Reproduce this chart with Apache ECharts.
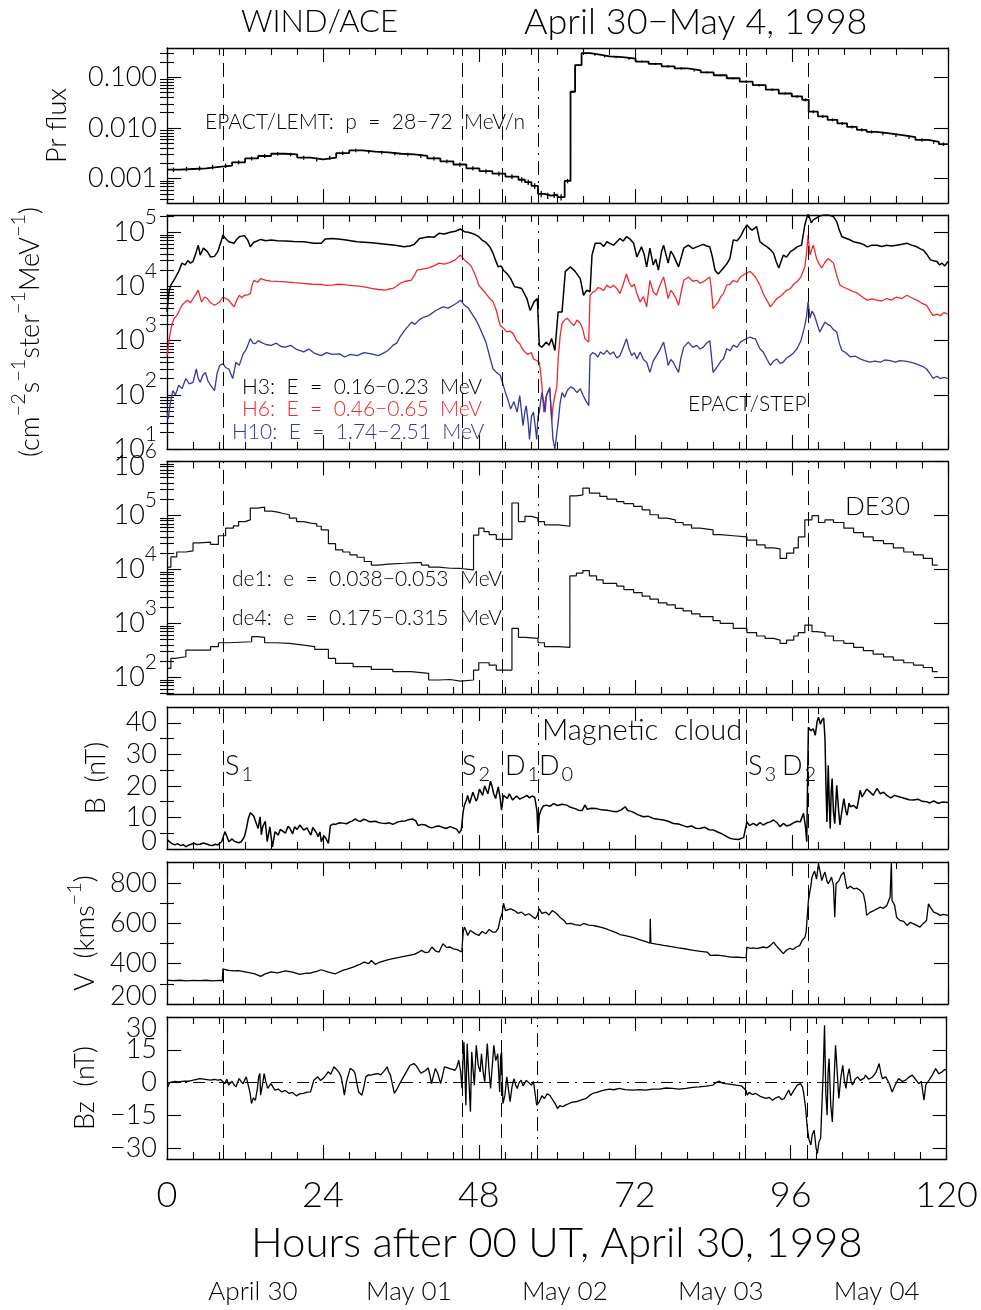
<!DOCTYPE html>
<html><head><meta charset="utf-8">
<script src="https://cdn.jsdelivr.net/npm/echarts@6/dist/echarts.min.js"></script>
<style>html,body{margin:0;padding:0;background:#fff}#c{width:981px;height:1310px}</style>
</head><body><div id="c"></div>
<script>
// ---------------- DATA ----------------
const xTickHours = [0, 24, 48, 72, 96, 120];
const dateHours = [12, 36, 60, 84, 108];
const dateNames = ['April 30', 'May 01', 'May 02', 'May 03', 'May 04'];
const shockHours = [8.7, 45.4, 51.5, 89.0, 98.5];   // S1, S2, D1, S3, D2
const cloudHours = [57.0];                          // D0
const eventLabels = [['S','1'],['S','2'],['D','1'],['D','0'],['S','3'],['D','2']];

const prFlux = [[0,0.0015],[2,0.00155],[4,0.0016],[6,0.0017],[8,0.0018],[10,0.0021],[12,0.0025],[14,0.0028],[16,0.0031],[18,0.003],[20,0.0026],[22,0.0024],[24,0.0026],[26,0.0032],[28,0.0036],[30,0.0034],[32,0.0033],[34,0.0031],[36,0.003],[38,0.0028],[40,0.0025],[42,0.0022],[44,0.0019],[46,0.0016],[48,0.0014],[50,0.00125],[52,0.0011],[54,0.00095],[55,0.00085],[56,0.00072],[57,0.0005],[58,0.00046],[59,0.00048],[60,0.00043],[61.1,0.0009],[62,0.052],[62.7,0.175],[63.7,0.30],[65,0.28],[66.5,0.26],[68,0.25],[70,0.235],[72,0.205],[74,0.185],[76,0.165],[78,0.15],[80,0.138],[82,0.125],[84,0.11],[86,0.096],[88,0.082],[90,0.07],[92,0.057],[94,0.048],[96,0.042],[97.6,0.036],[98.6,0.021],[100,0.017],[101.5,0.0145],[103,0.0123],[104.5,0.0105],[106,0.0092],[107.5,0.0084],[109,0.0078],[111,0.0072],[113,0.0066],[115,0.0058],[117,0.0053],[118.6,0.0048],[120,0.0046]];
// relative error of each Pr flux bin (error-bar half height)
const prFluxErr = [0.1,0.1,0.1,0.1,0.1,0.09,0.09,0.09,0.08,0.08,0.09,0.09,0.09,0.08,0.08,0.08,0.08,0.08,0.08,0.09,0.09,0.09,0.1,0.1,0.1,0.11,0.11,0.12,0.12,0.13,0.14,0.14,0.14,0.14,0.1,0.05,0.05,0.05,0.05,0.05,0.05,0.05,0.05,0.05,0.05,0.05,0.05,0.05,0.05,0.05,0.06,0.06,0.06,0.06,0.06,0.07,0.07,0.07,0.07,0.07,0.07,0.07,0.07,0.08,0.08,0.08,0.08,0.08,0.08];

const h3 = [[0,3.4e3],[0.3,8e3],[0.6,1.06e4],[1.2,1.4e4],[1.8,1.9e4],[2.3,2.7e4],[2.8,2.5e4],[3.2,3.0e4],[3.6,2.7e4],[4.0,2.9e4],[4.5,4.4e4],[4.8,5.8e4],[5.1,3.8e4],[5.6,5.1e4],[6.2,4.4e4],[6.7,3.5e4],[7.3,3.6e4],[7.8,4.4e4],[8.3,6.7e4],[8.6,8.9e4],[9.0,7.7e4],[9.5,6.7e4],[10.3,6.3e4],[10.7,7.4e4],[11.1,8.3e4],[11.9,8.7e4],[12.4,7.2e4],[12.8,5.4e4],[13.3,6.5e4],[14.4,7.4e4],[15.2,7.0e4],[16.0,7.2e4],[17.0,7.0e4],[18.2,6.9e4],[19.5,6.8e4],[21.0,6.7e4],[22.6,6.3e4],[23.7,6.3e4],[24.3,7.5e4],[25.4,7.7e4],[27.0,7.4e4],[29.2,6.7e4],[31.4,6.4e4],[33.6,6.0e4],[35.3,5.7e4],[36.4,5.4e4],[37.3,5.6e4],[38.0,6.0e4],[38.8,7.7e4],[40.2,8.3e4],[41.0,8.1e4],[41.8,9.6e4],[42.6,9.3e4],[43.5,1.0e5],[44.3,1.05e5],[45.1,1.15e5],[45.7,1.03e5],[46.3,1.0e5],[46.8,9.6e4],[47.4,9.0e4],[47.9,8.3e4],[48.4,7.2e4],[49.0,6.5e4],[49.6,5.4e4],[50.1,4.1e4],[50.5,3.0e4],[50.9,2.3e4],[51.3,2.4e4],[51.7,2.0e4],[52.3,1.7e4],[52.8,1.4e4],[53.4,9.9e3],[54.0,9.6e3],[54.5,9.2e3],[55.0,7.0e3],[55.3,6.0e3],[55.8,3.6e3],[56.4,5.2e3],[56.9,6.0e3],[57.2,820],[57.6,760],[58.3,940],[58.7,820],[59.1,1.09e3],[59.6,660],[60.1,3.4e3],[60.7,3.4e3],[61.2,1.9e4],[62.0,2.3e4],[62.7,1.9e4],[63.5,1.4e4],[64.0,6.9e3],[64.5,8.6e3],[65.0,8.0e3],[65.3,3.8e4],[65.8,6.3e4],[66.6,6.3e4],[67.1,5.5e4],[67.6,6.7e4],[68.1,6.2e4],[68.6,5.8e4],[69.6,7.7e4],[70.1,6.9e4],[70.6,8.3e4],[71.2,7.4e4],[71.7,6.3e4],[72.2,3.5e4],[72.9,5.4e4],[73.3,4.0e4],[73.7,2.3e4],[74.2,5.1e4],[74.7,2.5e4],[75.1,3.2e4],[75.5,2.0e4],[76.0,4.5e4],[76.3,5.8e4],[77.0,2.7e4],[77.4,4.5e4],[77.8,3.8e4],[78.6,2.3e4],[79.4,5.1e4],[80.1,5.8e4],[80.8,5.0e4],[81.4,5.4e4],[82.4,6.0e4],[82.9,5.6e4],[83.4,5.4e4],[83.8,3.5e4],[84.2,2.0e4],[84.7,1.7e4],[85.5,2.2e4],[86.0,2.6e4],[86.5,3.3e4],[87.0,7.2e4],[87.6,7.0e4],[88.1,8.3e4],[88.6,1.1e5],[89.1,1.37e5],[89.5,1.2e5],[89.9,1.1e5],[90.6,1.27e5],[91.1,6.7e4],[91.6,6.0e4],[92.2,5.4e4],[92.7,4.8e4],[93.2,4.1e4],[93.6,2.9e4],[94.0,2.2e4],[94.7,3.8e4],[95.2,3.5e4],[95.8,4.4e4],[96.3,4.8e4],[96.8,5.4e4],[97.5,5.8e4],[98.0,1.37e5],[98.5,2.25e5],[99.0,1.5e5],[99.3,1.7e5],[100.1,1.95e5],[100.9,2.1e5],[101.6,2.1e5],[102.4,1.95e5],[102.9,1.58e5],[103.3,1.1e5],[103.7,8.3e4],[104.4,7.7e4],[105.0,7.2e4],[105.5,6.7e4],[106.5,6.3e4],[107.0,6.0e4],[107.6,5.4e4],[108.3,5.8e4],[109.1,5.8e4],[109.8,5.5e4],[110.6,5.8e4],[111.3,5.6e4],[112.1,5.8e4],[112.9,6.0e4],[113.7,6.3e4],[114.4,5.8e4],[115.2,5.4e4],[115.7,5.0e4],[116.2,4.7e4],[116.7,4.0e4],[117.3,3.1e4],[117.8,3.0e4],[118.3,2.9e4],[118.7,2.5e4],[119.1,2.7e4],[119.5,2.4e4],[120.0,2.9e4]];

const h6 = [[0,530],[0.4,1.2e3],[0.7,1.9e3],[1.1,2.6e3],[1.5,2.9e3],[1.9,3.6e3],[2.3,4.5e3],[2.8,5.2e3],[3.2,5.6e3],[3.6,5.0e3],[4.0,6.0e3],[4.4,7.0e3],[4.8,8.6e3],[5.3,5.2e3],[5.8,6.4e3],[6.2,6.0e3],[6.7,5.0e3],[7.3,4.5e3],[7.7,4.8e3],[8.1,5.2e3],[8.6,6.4e3],[9.0,6.0e3],[9.5,5.6e3],[9.9,4.8e3],[10.3,4.2e3],[10.7,5.5e3],[11.1,6.9e3],[11.5,6.2e3],[11.9,6.9e3],[12.4,7.0e3],[12.8,7.4e3],[13.1,1.1e4],[13.4,1.3e4],[13.9,1.2e4],[14.4,1.4e4],[15.2,1.3e4],[16.0,1.26e4],[17.0,1.24e4],[18.2,1.22e4],[19.5,1.18e4],[21.0,1.14e4],[22.3,1.1e4],[23.7,1.09e4],[24.5,1.05e4],[25.4,1.06e4],[26.2,1.1e4],[27.0,1.09e4],[28.0,1.05e4],[29.2,1.03e4],[30.3,9.8e3],[31.4,9.2e3],[32.5,8.8e3],[33.6,8.6e3],[34.2,9.0e3],[34.7,9.2e3],[35.2,1.0e4],[35.8,1.14e4],[36.6,1.25e4],[37.5,1.3e4],[38.0,1.6e4],[38.4,2.0e4],[39.2,2.1e4],[40.2,2.2e4],[41.0,2.4e4],[41.8,2.7e4],[42.6,2.6e4],[43.5,2.8e4],[44.3,3.1e4],[45.1,3.8e4],[45.7,3.1e4],[46.3,2.7e4],[46.8,2.3e4],[47.4,1.6e4],[47.9,1.06e4],[48.4,9.0e3],[49.0,7.4e3],[49.6,6.0e3],[50.1,5.2e3],[50.6,3.6e3],[51.2,1.9e3],[51.7,1.7e3],[52.2,1.45e3],[52.7,1.5e3],[53.2,1.35e3],[53.7,1.0e3],[54.2,880],[54.6,700],[55.0,620],[55.4,560],[55.7,530],[56.0,600],[56.3,460],[56.8,430],[57.2,400],[57.4,260],[57.6,150],[57.9,48],[58.1,75],[58.3,97],[58.6,120],[58.8,140],[59.1,33],[59.3,60],[59.6,97],[59.9,140],[60.1,460],[60.4,1.2e3],[60.7,2.1e3],[61.1,2.4e3],[61.5,2.6e3],[62.0,2.2e3],[62.5,1.9e3],[63.0,2.4e3],[63.5,2.1e3],[63.9,1.6e3],[64.2,1.09e3],[64.8,940],[65.0,6.9e3],[65.4,7.8e3],[65.8,8.2e3],[66.2,9.5e3],[66.6,9.2e3],[67.1,8.5e3],[67.6,1.06e4],[68.1,9.5e3],[68.6,1.06e4],[69.1,9.2e3],[69.6,7.4e3],[70.1,1.1e4],[70.6,1.7e4],[71.0,1.2e4],[71.4,9.9e3],[71.8,1.1e4],[72.2,7.4e3],[72.7,5.2e3],[73.2,6.5e3],[73.7,4.2e3],[74.2,1.3e4],[74.7,8.0e3],[75.2,6.9e3],[75.8,1.1e4],[76.3,1.5e4],[76.7,9.0e3],[77.0,6.0e3],[77.4,8.5e3],[77.8,7.4e3],[78.2,6.0e3],[78.6,4.5e3],[79.0,8.0e3],[79.4,1.3e4],[80.1,1.5e4],[80.8,1.25e4],[81.4,1.3e4],[81.9,1.15e4],[82.4,1.22e4],[82.9,1.35e4],[83.4,1.5e4],[83.6,1.0e4],[83.9,3.9e3],[84.3,4.5e3],[84.7,5.2e3],[85.1,6.5e3],[85.5,7.4e3],[86.0,1.06e4],[86.5,1.1e4],[87.0,1.3e4],[87.6,1.2e4],[88.1,1.5e4],[88.8,1.7e4],[89.6,1.9e4],[90.0,1.7e4],[90.4,1.5e4],[91.1,1.06e4],[91.6,7.4e3],[92.2,5.5e3],[92.7,4.2e3],[93.2,5.0e3],[93.7,6.0e3],[94.2,6.5e3],[94.7,7.4e3],[95.2,8.5e3],[95.8,9.2e3],[96.3,1.1e4],[96.8,1.22e4],[97.4,1.5e4],[98.0,2.3e4],[98.3,4.5e4],[98.5,8.9e4],[98.8,3.8e4],[99.1,5.0e4],[99.3,5.8e4],[99.8,3.3e4],[100.2,2.6e4],[100.6,2.2e4],[101.1,2.8e4],[101.6,3.3e4],[102.0,3.0e4],[102.4,2.7e4],[102.9,1.6e4],[103.4,1.06e4],[103.9,9.8e3],[104.4,9.2e3],[105.0,8.5e3],[105.5,8.0e3],[106.0,7.6e3],[106.5,6.9e3],[107.0,6.2e3],[107.6,5.6e3],[108.3,5.9e3],[109.1,5.6e3],[109.8,5.4e3],[110.6,6.0e3],[111.3,5.6e3],[112.1,6.4e3],[112.9,6.0e3],[113.7,6.9e3],[114.4,6.2e3],[115.2,5.6e3],[115.9,5.0e3],[116.7,4.5e3],[117.2,3.6e3],[117.7,2.9e3],[118.3,3.1e3],[118.8,2.9e3],[119.4,3.3e3],[120.0,3.1e3]];

const h10 = [[0,48],[0.2,36],[0.5,70],[0.9,120],[1.3,100],[1.8,150],[2.3,130],[2.9,200],[3.4,160],[4.0,170],[4.5,300],[4.8,200],[5.1,170],[5.5,230],[5.9,260],[6.3,180],[6.7,150],[7.3,120],[7.7,250],[8.1,350],[8.6,375],[9.0,320],[9.5,300],[10.1,200],[10.6,400],[11.1,350],[11.7,570],[12.2,700],[12.8,1.09e3],[13.2,900],[13.6,880],[14.0,1.0e3],[14.4,940],[15.2,850],[16.0,820],[16.8,900],[17.5,780],[18.2,760],[19.0,820],[19.8,700],[21.0,620],[21.8,700],[22.7,580],[23.7,530],[24.5,600],[25.4,560],[26.5,570],[27.3,500],[28.2,560],[29.2,530],[30.3,600],[31.4,570],[32.5,530],[33.6,620],[34.2,700],[34.7,820],[35.3,900],[35.8,1.17e3],[36.6,1.6e3],[37.6,2.2e3],[38.1,2.0e3],[38.7,2.4e3],[39.4,2.7e3],[40.2,2.9e3],[41.3,3.6e3],[42.4,4.2e3],[43.2,4.0e3],[44.0,4.5e3],[44.6,5.0e3],[45.1,5.6e3],[45.7,4.5e3],[46.3,4.0e3],[46.8,3.2e3],[47.4,2.5e3],[47.9,1.9e3],[48.5,1.3e3],[49.0,940],[49.6,500],[50.1,300],[50.6,260],[51.2,230],[51.6,160],[52.0,110],[52.4,80],[52.8,55],[53.3,75],[53.8,48],[54.2,97],[54.7,27],[55.0,50],[55.2,63],[55.5,30],[55.7,15],[56.0,40],[56.3,48],[56.6,25],[56.8,15],[57.0,40],[57.2,48],[57.6,110],[57.9,70],[58.1,48],[58.3,97],[58.8,130],[59.0,60],[59.3,15],[59.6,10],[60.1,31],[60.4,70],[60.7,110],[61.1,90],[61.5,120],[62.0,140],[62.5,130],[63.0,110],[63.5,130],[63.9,100],[64.2,84],[64.8,63],[65.0,530],[65.4,600],[65.8,570],[66.2,500],[66.6,620],[67.1,560],[67.6,660],[68.1,560],[68.6,620],[69.1,480],[69.6,530],[70.1,750],[70.6,1.09e3],[71.0,700],[71.4,530],[71.8,600],[72.2,460],[72.7,620],[73.2,450],[73.7,400],[74.2,260],[74.7,420],[75.2,530],[75.8,700],[76.3,940],[76.7,550],[77.0,350],[77.4,450],[77.8,400],[78.2,320],[78.6,260],[79.0,500],[79.4,760],[80.1,940],[80.8,750],[81.4,820],[81.9,700],[82.4,760],[82.9,900],[83.4,1.0e3],[83.6,600],[83.9,260],[84.3,300],[84.7,350],[85.1,420],[85.5,460],[86.0,710],[86.5,650],[87.0,820],[87.6,760],[88.1,940],[88.8,1.05e3],[89.6,1.17e3],[90.0,1.1e3],[90.4,1.09e3],[91.1,710],[91.6,620],[92.2,450],[92.7,350],[93.2,420],[93.7,460],[94.2,380],[94.7,400],[95.2,480],[95.8,530],[96.3,600],[96.8,710],[97.4,1.0e3],[98.0,1.9e3],[98.3,3.0e3],[98.5,5.2e3],[98.8,2.6e3],[99.1,3.5e3],[99.5,2.9e3],[99.9,2.0e3],[100.3,1.45e3],[100.7,1.8e3],[101.1,2.2e3],[101.5,2.0e3],[101.9,1.9e3],[102.4,1.6e3],[102.9,1.45e3],[103.3,900],[103.7,660],[104.3,600],[105.0,500],[105.7,520],[106.5,460],[107.2,430],[108.0,400],[108.8,420],[109.6,400],[110.3,440],[111.1,430],[111.9,400],[112.6,430],[113.4,420],[114.2,400],[114.9,380],[115.7,350],[116.2,330],[116.7,300],[117.2,250],[117.7,200],[118.3,220],[118.8,200],[119.4,210],[120.0,200]];

const de1 = [[0,1.1e4],[0.6,1.7e4],[1.5,2.1e4],[2.9,2.2e4],[4.0,3.1e4],[5.0,3.2e4],[6.7,2.9e4],[7.9,4.2e4],[9.0,5.8e4],[10.2,6.4e4],[11.0,7.7e4],[12.0,8.3e4],[12.8,1.37e5],[13.9,1.43e5],[15.0,1.2e5],[16.1,1.14e5],[17.2,1.1e5],[17.7,1.03e5],[18.8,8.9e4],[19.9,7.7e4],[21.0,7.2e4],[22.1,7.0e4],[23.0,6.3e4],[23.7,5.4e4],[24.8,3.0e4],[25.9,2.3e4],[27.0,2.1e4],[28.1,1.86e4],[29.2,1.68e4],[30.3,1.4e4],[31.4,1.2e4],[32.5,1.25e4],[34.0,1.3e4],[36.5,1.34e4],[38.3,1.34e4],[39.1,1.2e4],[40.2,1.1e4],[41.8,1.05e4],[43.5,1.04e4],[45.1,9.8e3],[47.1,4.3e4],[47.9,5.8e4],[48.7,5.0e4],[49.5,4.4e4],[50.6,3.6e4],[53.0,1.7e5],[54.0,7.7e4],[55.0,9.6e4],[56.0,8.9e4],[57.0,7.7e4],[58.0,6.7e4],[60.1,6.3e4],[61.9,2.3e5],[62.9,2.4e5],[63.9,3.2e5],[64.9,2.6e5],[66.5,2.25e5],[67.6,2.0e5],[69.1,1.8e5],[70.2,1.65e5],[71.7,1.47e5],[73.0,1.27e5],[74.2,1.03e5],[75.5,8.9e4],[76.8,8.3e4],[78.1,7.4e4],[79.3,6.7e4],[80.6,5.8e4],[81.9,5.4e4],[83.9,4.4e4],[85.0,4.2e4],[87.0,4.0e4],[89.1,3.5e4],[90.6,2.85e4],[91.9,2.5e4],[93.2,2.4e4],[94.2,1.6e4],[95.2,2.0e4],[96.3,2.5e4],[97.0,4.0e4],[98.0,8.3e4],[99.1,9.9e4],[100.1,7.4e4],[101.1,8.3e4],[102.4,7.4e4],[104.0,5.8e4],[105.5,4.8e4],[107.0,4.0e4],[108.5,3.4e4],[110.1,3.0e4],[111.6,2.5e4],[113.2,2.1e4],[114.7,1.86e4],[116.2,1.6e4],[117.6,1.2e4],[118.4,1.2e4]];

const de4 = [[0,146],[0.6,224],[1.2,240],[2.9,320],[5.0,320],[6.7,369],[7.9,437],[9.4,456],[13.0,565],[13.9,550],[15.0,437],[16.7,425],[18.8,396],[21.0,369],[22.7,329],[24.8,224],[25.9,181],[28.6,157],[31.4,140],[34.7,127],[37.5,118],[40.2,89],[41.8,91],[43.5,85],[45.1,89],[47.1,136],[47.9,186],[49.5,168],[50.6,136],[53.0,807],[54.0,550],[55.0,526],[57.0,437],[58.0,369],[60.1,358],[61.9,7.6e3],[62.9,8.5e3],[63.9,9.5e3],[64.9,7.6e3],[66.0,6.4e3],[67.0,5.5e3],[69.1,4.9e3],[70.2,4.2e3],[71.7,3.7e3],[73.0,3.2e3],[74.2,2.8e3],[75.5,2.4e3],[76.8,2.2e3],[78.1,1.9e3],[79.3,1.7e3],[80.6,1.5e3],[81.9,1.33e3],[83.9,1.12e3],[85.0,1.0e3],[87.0,807],[89.1,671],[90.6,582],[91.9,526],[93.2,490],[94.2,425],[95.2,490],[96.3,582],[97.0,671],[98.0,930],[99.1,700],[99.8,671],[101.1,582],[102.4,476],[104.0,425],[105.5,358],[107.0,311],[108.5,269],[110.1,240],[111.6,208],[113.2,186],[114.7,168],[116.2,152],[117.6,127],[118.4,127]];

const bField = [[0.1,2.8],[0.7,1.8],[1.2,1.3],[1.6,1.7],[2.1,1.1],[2.5,1.4],[2.9,0.7],[3.3,1.2],[3.7,1.5],[4.2,1.8],[4.6,1.4],[5.1,1.5],[5.6,1.9],[6.2,1.5],[6.6,1.2],[7.0,1.1],[7.4,1.5],[7.8,1.3],[8.4,2.3],[8.9,5.5],[9.2,4.0],[9.5,2.3],[10.0,3.2],[10.3,2.5],[10.6,2.8],[11.0,2.0],[11.4,2.3],[11.9,3.9],[12.2,6.5],[12.5,9.7],[12.8,11.5],[13.0,12],[13.3,10.5],[13.6,10.7],[14.0,6.5],[14.3,10.2],[14.5,4.5],[14.7,7],[15.1,8.8],[15.4,2.3],[15.8,7],[16.2,0.7],[16.6,5.5],[17.1,4.4],[17.4,6.2],[17.7,6],[18.2,5],[18.6,7.2],[18.9,6.5],[19.3,4.8],[19.6,7],[20.0,6.2],[20.4,7.6],[20.7,6.8],[21.0,6],[21.5,6.7],[22.1,4.4],[22.4,6.8],[22.6,6.5],[23.0,5.0],[23.2,3.9],[23.5,5.4],[23.7,2.3],[24.1,4.2],[24.4,3.4],[24.8,1.8],[25.1,7.4],[25.5,7.9],[25.9,7.8],[26.5,8.3],[27.0,8.2],[27.6,8.0],[28.1,8.6],[28.5,8.9],[28.9,9.5],[29.4,8.9],[29.8,8.8],[30.2,9.4],[30.6,9.2],[31.0,8.7],[31.4,8.6],[32.0,8.8],[32.5,8.4],[33.0,8.2],[33.6,8.1],[34.2,8.3],[34.7,7.8],[35.1,8.2],[35.5,8.6],[36.0,8.8],[36.6,8.9],[37.1,9.3],[37.7,9.5],[38.2,9.0],[38.6,7.4],[39.1,7.8],[39.7,7.6],[40.2,7.0],[40.7,6.7],[41.2,7.1],[41.8,7.3],[42.3,6.9],[42.9,6.5],[43.5,7.1],[44.0,6.7],[44.5,6.3],[44.9,5],[45.2,6.0],[45.3,7.6],[45.5,11.8],[45.7,13.9],[46.0,15.5],[46.2,17],[46.5,14.5],[46.7,15],[47.0,18],[47.2,17.6],[47.5,15.2],[47.7,16],[48.0,19],[48.2,18.6],[48.5,17],[48.8,20],[49.1,19.4],[49.3,17.5],[49.5,17],[49.7,21.5],[49.9,20.2],[50.2,17.5],[50.5,16],[50.7,18],[50.9,19.7],[51.2,16],[51.4,12.3],[51.7,17],[52.0,16.5],[52.3,16],[52.6,17.5],[52.8,17],[53.1,15.5],[53.4,15],[53.7,16.8],[53.9,16.5],[54.2,15.8],[54.5,15.2],[54.9,16.5],[55.3,17],[55.7,16.2],[56.1,16.8],[56.5,16.4],[56.7,16],[56.85,12],[57.0,5],[57.2,10.7],[57.5,12.5],[57.8,13.6],[58.3,13.9],[58.8,13.5],[59.4,14.4],[60.0,13.8],[60.7,14.2],[61.4,13.9],[62.0,13.2],[62.7,12.8],[63.2,12.3],[63.5,11.8],[63.8,12.2],[64.2,13.9],[64.6,12.6],[65.2,12.9],[66.0,12.8],[66.8,12.4],[67.6,12.3],[68.4,12.0],[69.1,11.8],[69.8,12.4],[70.4,13.4],[70.8,12.2],[71.2,12.0],[71.7,11.6],[72.4,10.8],[73.2,10.2],[73.9,10.4],[74.7,9.7],[75.5,9.4],[76.3,9.2],[77.0,8.8],[77.8,8.1],[78.6,7.9],[79.3,7.4],[79.9,7.0],[80.6,7.3],[81.2,6.6],[81.9,6.5],[82.6,6.9],[83.3,6.1],[84.0,6.0],[84.6,5.4],[85.3,4.8],[86.0,3.9],[86.5,3.4],[87.0,3.2],[87.8,3.0],[88.6,3.6],[88.9,4],[89.1,8.6],[89.5,7.4],[90.1,8.1],[90.6,7.4],[91.1,8.4],[91.6,7.6],[92.2,8.3],[92.7,8.6],[93.2,9.2],[93.7,8.4],[94.2,7.1],[94.7,8.1],[95.2,7.3],[95.7,7.6],[96.2,8.2],[96.8,8.8],[97.3,8.6],[97.8,11.3],[98.1,7],[98.3,2.3],[98.45,25],[98.55,38.6],[98.9,37.5],[99.3,38.1],[99.6,36],[99.9,40.5],[100.1,41.8],[100.4,39.5],[100.6,40.7],[100.9,41.5],[101.1,35],[101.25,20],[101.4,8.6],[101.6,26.5],[101.75,15],[101.9,6.5],[102.05,18],[102.2,22.3],[102.4,11.8],[102.6,8],[102.9,20.2],[103.2,12],[103.4,7.6],[103.7,12],[104.0,16],[104.3,12],[104.5,10.7],[104.8,14.5],[105.0,13.4],[105.5,13.8],[106.0,12.8],[106.3,16],[106.5,18.6],[106.8,16.5],[107.0,17],[107.5,19],[108.0,18.1],[108.5,17],[109.1,19.2],[109.6,17.5],[110.1,18],[110.6,17],[111.2,16.2],[111.8,17.0],[112.6,16.5],[113.4,16.0],[114.0,15.6],[114.7,15.5],[115.4,15.8],[116.0,15.1],[116.7,15],[117.2,14.6],[117.8,15.2],[118.5,14.5],[119.2,14.9],[120.0,14.7]];

const velocity = [[0,318],[1,316],[2,318],[3,315],[4,317],[5,316],[6,318],[7,315],[8,317],[8.5,316],[8.6,375],[9.0,370],[9.5,367],[10.3,364],[11.0,366],[12.0,360],[12.8,354],[13.5,350],[14.4,337],[15.0,348],[16.0,359],[17.0,355],[18.2,364],[19.3,358],[20.4,347],[21.2,352],[22.1,354],[23.0,362],[23.7,370],[24.8,358],[25.9,350],[27.0,367],[27.8,374],[28.6,383],[29.5,395],[30.3,408],[31.0,400],[31.4,416],[32.0,397],[32.5,405],[33.6,416],[34.7,425],[35.5,430],[36.4,436],[37.2,441],[38.0,446],[38.6,456],[39.1,466],[39.7,455],[40.2,458],[40.7,483],[41.3,462],[41.8,458],[42.4,499],[43.0,480],[43.5,483],[44.0,474],[44.6,470],[44.9,463],[45.3,458],[45.5,557],[45.7,582],[46.0,560],[46.2,540],[46.6,565],[46.9,557],[47.4,548],[47.9,540],[48.4,560],[49.0,549],[49.5,570],[50.0,557],[50.5,557],[50.9,575],[51.2,623],[51.5,650],[51.7,700],[52.0,664],[52.3,656],[52.8,672],[53.4,664],[53.9,650],[54.5,656],[55.0,640],[55.6,648],[56.1,636],[56.6,623],[56.9,640],[57.2,673],[57.6,650],[58.2,656],[58.7,642],[59.2,664],[59.9,648],[60.4,630],[61.0,615],[61.4,598],[62.0,600],[62.7,594],[63.5,590],[64.0,600],[64.2,607],[64.8,592],[65.4,590],[66.0,586],[66.6,582],[67.4,574],[68.1,565],[68.9,556],[69.6,545],[70.6,538],[71.7,529],[72.7,518],[73.7,508],[74.2,502],[74.25,623],[74.35,502],[75.2,497],[76.3,491],[77.5,485],[78.6,479],[79.8,473],[80.9,466],[82.0,461],[83.0,458],[83.5,441],[84.5,443],[85.5,439],[86.6,433],[87.6,432],[88.6,430],[89.0,431],[89.1,483],[89.6,476],[90.1,479],[90.6,475],[91.6,483],[92.2,479],[92.7,490],[93.2,507],[93.6,490],[94.2,468],[94.7,450],[95.2,468],[95.7,476],[96.2,470],[96.7,483],[97.2,490],[97.6,516],[98.0,530],[98.2,557],[98.55,714],[98.9,780],[99.1,830],[99.5,860],[99.8,820],[100.1,896],[100.4,850],[100.6,813],[100.9,840],[101.1,855],[101.4,810],[101.6,797],[101.9,815],[102.1,830],[102.4,790],[102.6,631],[102.8,797],[103.2,810],[103.6,840],[104.0,855],[104.3,800],[104.5,772],[105.0,785],[105.5,772],[106.0,775],[106.5,764],[107.0,747],[107.3,700],[107.5,640],[108.0,655],[108.6,664],[109.1,672],[109.6,681],[110.1,675],[110.6,689],[111.1,731],[111.3,904],[111.4,714],[111.8,690],[112.1,631],[112.6,615],[113.2,610],[113.7,590],[114.2,605],[114.7,598],[115.2,590],[115.7,582],[116.2,600],[116.7,615],[117.0,697],[117.3,680],[117.8,656],[118.3,650],[118.8,640],[119.3,645],[120.0,640]];

const bz = [[0.1,-2],[0.4,0],[0.7,0],[1.2,0.5],[1.8,0.3],[2.6,0.6],[3.4,0.6],[4.2,1.2],[5.1,1.8],[5.9,1.4],[6.7,1.1],[7.3,1.5],[7.8,1.1],[8.3,1.3],[8.6,1.8],[8.9,-0.5],[9.2,1.5],[9.5,-1.2],[10.0,0.6],[10.3,-1],[10.6,-2],[11.1,1.8],[11.4,0.5],[11.7,-0.5],[12.2,2.6],[12.5,-1.2],[12.8,-5],[13.0,-9.6],[13.3,-7],[13.6,-8.1],[13.9,-3],[14.1,2.6],[14.3,4.1],[14.4,-5.8],[14.7,-1],[14.95,4.1],[15.2,0.5],[15.5,-2.7],[16.0,-0.5],[16.3,-2],[16.6,-3.5],[17.1,-3],[17.7,-4.3],[18.2,-3.6],[18.8,-5],[19.3,-4.5],[19.9,-6.1],[20.4,-5.2],[21.0,-5],[21.6,-4.4],[22.1,-4.3],[22.4,-1],[22.6,1.1],[23.2,2.6],[23.6,1.0],[24.0,1.8],[24.4,3.2],[24.8,4.9],[25.2,3.8],[25.7,7.2],[26.2,5.6],[26.5,4.5],[26.8,2.6],[27.1,-2],[27.3,-5.8],[27.6,0],[27.9,3.4],[28.2,6.5],[28.4,7.2],[28.7,5.5],[28.95,4.1],[29.2,0],[29.5,-4.3],[30.0,-5.8],[30.3,-2],[30.6,2.6],[31.0,3.5],[31.4,3.4],[31.9,3.8],[32.5,4.1],[32.9,3.5],[33.3,4.9],[33.9,7.2],[34.1,5],[34.4,3.4],[34.7,-1],[35.0,-5],[35.3,-3.5],[35.5,-2.7],[36.0,0.5],[36.4,2.6],[36.9,5.2],[37.4,7.9],[38.0,8.7],[38.4,7.5],[38.8,5.6],[39.1,4.3],[39.4,4.1],[39.8,5.5],[40.2,6.7],[40.5,3],[40.7,-0.5],[41.0,3],[41.3,6.4],[41.7,4],[42.1,-0.5],[42.4,3],[42.7,7.2],[43.1,6.8],[43.5,6.4],[43.9,6.0],[44.3,5.6],[44.6,7],[44.9,10.2],[45.2,5],[45.4,-2.7],[45.55,10],[45.7,18.6],[45.85,5],[46.0,-10.4],[46.1,5],[46.2,17.8],[46.45,2],[46.7,-13.4],[46.9,14],[47.1,6],[47.3,-1.2],[47.6,17],[47.9,8],[48.2,4.9],[48.4,13.2],[48.65,5],[48.9,0.3],[49.3,17.8],[49.55,6],[49.8,-2.7],[50.3,17],[50.6,10],[50.9,13.2],[51.2,-4.3],[51.35,12],[51.5,14],[51.7,-9.6],[52.0,-6],[52.3,2.6],[52.55,-3],[52.8,-8.8],[53.1,-2],[53.4,1.8],[53.65,-1],[53.9,-2.7],[54.2,0],[54.5,1.1],[54.8,-1.5],[55.0,-2],[55.3,1],[55.6,0.3],[56.1,-1.2],[56.4,0.5],[56.7,1.1],[56.9,-10.4],[57.3,-8.8],[57.7,-6],[58.1,-7.3],[58.5,-5.2],[58.9,-5.8],[59.4,-8.1],[59.8,-10],[60.1,-11.9],[60.5,-10.5],[60.9,-11.1],[61.4,-10.2],[61.9,-9.6],[62.4,-9.0],[62.9,-8.8],[63.7,-8.0],[64.5,-7.3],[65.0,-6.0],[65.5,-5],[66.0,-4.6],[66.6,-4],[67.3,-3.5],[68.1,-3],[68.8,-3.3],[69.6,-2.7],[70.5,-3.2],[71.7,-3.5],[72.7,-3.2],[73.7,-3.5],[74.7,-3.0],[75.8,-3],[76.8,-2.5],[77.8,-2.7],[78.8,-3],[79.9,-2.7],[80.9,-2.2],[81.9,-2],[83.0,-1.6],[84.0,-1.2],[84.5,0],[85.0,0.6],[85.5,-0.3],[86.0,-0.5],[86.8,-0.8],[87.6,-1.2],[88.4,-1.5],[89.1,-3.5],[89.3,-5.8],[89.6,-4.5],[90.1,-5.5],[90.6,-5],[91.4,-6.5],[92.2,-7.3],[92.7,-6.8],[93.2,-8.1],[93.7,-7],[94.2,-6.5],[94.6,-7.8],[95.0,-7.3],[95.4,-5],[95.7,-3.5],[96.0,-6],[96.2,-5.8],[96.6,-3],[97.0,-1.2],[97.3,-2],[97.5,-0.5],[97.8,-2],[98.0,-5],[98.3,-12],[98.55,-21],[98.8,-26],[99.1,-28.6],[99.3,-24],[99.6,-21.8],[99.9,-30],[100.1,-32.4],[100.35,-27],[100.6,-25.6],[100.8,-10],[101.0,4.9],[101.2,26.2],[101.4,-5],[101.6,-14.9],[101.75,5],[101.9,11],[102.15,-10],[102.4,-18],[102.65,0],[102.9,17],[103.15,5],[103.4,-7.3],[103.7,2],[104.0,7.9],[104.25,1],[104.5,-2.7],[104.75,3],[105.0,6.4],[105.25,1],[105.5,-1.2],[105.9,1.5],[106.3,2.6],[106.7,1],[107.0,0.3],[107.3,2],[107.5,3.4],[108.0,1.5],[108.6,2.6],[109.1,4.5],[109.6,8.7],[109.9,4],[110.1,1.8],[110.6,2.6],[111.1,0],[111.6,-4.3],[112.1,-1],[112.6,1.8],[113.2,0.5],[113.7,1.1],[114.2,2.5],[114.7,3.4],[115.2,1.5],[115.7,-0.5],[116.1,0.5],[116.5,-8.1],[116.8,-1],[117.3,1.1],[117.8,3.5],[118.3,6.4],[118.8,4],[119.3,4.9],[119.7,6],[120.0,5.6]];

// y-axis tick values
const prTicks = [0.001, 0.01, 0.1];
const stepTicks = [1e1, 1e2, 1e3, 1e4, 1e5];
const deTicks = [1e2, 1e3, 1e4, 1e5, 1e6];
const bTicks = [0, 10, 20, 30, 40], bMinor = [5, 15, 25, 35];
const vTicks = [200, 400, 600, 800], vMinor = [300, 500, 700];
const bzTicks = [-30, -15, 0, 15, 30];

// ---------------- STYLE / LAYOUT ----------------
const FONT = 'Lato', W = 300, K = '#000';
const RED = '#ec2a2e', BLUE = '#33389b';
const GL = 167, GR = 33;
const grids = [
  {top: 48, height: 155}, {top: 215, height: 234}, {top: 461.5, height: 232.5},
  {top: 707, height: 142}, {top: 862, height: 142}, {top: 1017, height: 142}
];
const ts = (size, extra) => Object.assign({fontFamily: FONT, fontWeight: W, fontSize: size, color: K}, extra || {});
const richY = {
  b: ts(27), e: ts(21, {padding: [0, 0, 30, 0]}),
  bt: ts(27, {padding: [10, 0, 0, 0]}), et: ts(21, {padding: [10, 0, 30, 0]}),
  up: ts(27, {padding: [0, 0, 16, 0]}), dn: ts(27, {padding: [22, 0, 0, 0]})
};
function logMinors(min, max) {
  const out = [];
  for (let k = Math.floor(Math.log10(min)); k <= Math.ceil(Math.log10(max)); k++)
    for (let m = 2; m <= 9; m++) { const v = m * Math.pow(10, k); if (v > min && v < max) out.push(v); }
  return out;
}
const expFmt = top => v => {
  const n = Math.round(Math.log10(v));
  return (top && n === top) ? '{bt|10}{et|' + n + '}' : '{b|10}{e|' + n + '}';
};
// "edge" = the tick label sitting on the panel frame, nudged inward like the original
const panelsY = [
  {type: 'log', min: 3.3e-4, max: 0.38, majors: prTicks, minors: logMinors(3.3e-4, 0.38),
   fmt: v => v.toFixed(3), name: 'Pr flux', gap: 96},
  {type: 'log', min: 10, max: 2.09e5, majors: stepTicks, minors: logMinors(10, 2.09e5), fmt: expFmt(null),
   name: '(cm{e|−2}s{e|−1}ster{e|−1}MeV{e|−1})', gap: 116},
  {type: 'log', min: 49, max: 1e6, majors: deTicks, minors: logMinors(49, 1e6), fmt: expFmt(6), name: '', gap: 0, edge: 1e6},
  {type: 'value', min: 0, max: 45, majors: bTicks, minors: bMinor, fmt: v => v === 0 ? '{up|0}' : String(v),
   name: 'B  (nT)', gap: 57, edge: 0},
  {type: 'value', min: 200, max: 905, majors: vTicks, minors: vMinor, fmt: v => v === 200 ? '{up|200}' : String(v),
   name: 'V  (kms{e|−1})', gap: 57, edge: 200},
  {type: 'value', min: -35, max: 30, majors: bzTicks, minors: [],
   fmt: v => v === 30 ? '{dn|30}' : (v < 0 ? '−' + Math.abs(v) : String(v)), name: 'Bz  (nT)', gap: 57, edge: 30}
];

const lineSt = {color: K, width: 1.3};
const xAxis = [], yAxis = [], grid = [];
grids.forEach((g, i) => {
  grid.push({left: GL, right: GR, top: g.top, height: g.height, containLabel: false});
  const bx = {
    type: 'value', gridIndex: i, min: 0, max: 120, interval: 24, splitLine: {show: false},
    axisLine: {show: true, onZero: false, lineStyle: lineSt},
    axisTick: {show: true, inside: true, length: 14, lineStyle: {color: K, width: 1.1}},
    minorTick: {show: true, splitNumber: 6, length: 7, lineStyle: {color: K, width: 1.1}},
    minorSplitLine: {show: false}, axisLabel: {show: false}
  };
  const bottom = Object.assign({}, bx, {position: 'bottom'});
  if (i === 5) {
    bottom.axisLabel = Object.assign(ts(36), {show: true, margin: 18, customValues: xTickHours,
      showMinLabel: true, showMaxLabel: true});
    bottom.name = 'Hours after 00 UT, April 30, 1998';
    bottom.nameLocation = 'middle';
    bottom.nameGap = 63;
    bottom.nameTextStyle = ts(42);
  }
  xAxis.push(bottom, Object.assign({}, bx, {position: 'top'}));

  const p = panelsY[i];
  const hasEdge = p.edge !== undefined;
  const mainLabels = hasEdge ? p.majors.filter(v => v !== p.edge) : p.majors;
  const by = {type: p.type, gridIndex: i, min: p.min, max: p.max, splitLine: {show: false}};
  if (p.type === 'log') by.logBase = 10;
  const labelBase = extra => Object.assign(ts(27), {show: true, margin: 10, formatter: p.fmt, rich: richY,
    showMinLabel: true, showMaxLabel: true, hideOverlap: false}, extra);
  const major = side => Object.assign({}, by, {
    position: side, axisLine: {show: true, onZero: false, lineStyle: lineSt},
    axisTick: {show: true, inside: true, length: 14, customValues: p.majors, lineStyle: {color: K, width: 1.1}},
    axisLabel: side === 'left' ? labelBase({customValues: mainLabels}) : {show: false}
  });
  const minor = side => Object.assign({}, by, {
    position: side, axisLine: {show: false},
    axisTick: {show: p.minors.length > 0, inside: true, length: 7, customValues: p.minors.length ? p.minors : [p.min], lineStyle: {color: K, width: 1.1}},
    axisLabel: (side === 'left' && hasEdge) ? labelBase({customValues: [p.edge]}) : {show: false}
  });
  const lm = major('left');
  if (p.name) {
    lm.name = p.name; lm.nameLocation = 'middle'; lm.nameRotate = 90; lm.nameGap = p.gap;
    lm.nameTextStyle = Object.assign(ts(27), {rich: {e: ts(20, {padding: [0, 0, 22, 0]})}});
  }
  yAxis.push(lm, minor('left'), major('right'), minor('right'));
});
// date row axis
xAxis.push({
  type: 'value', gridIndex: 5, min: 0, max: 120, position: 'bottom', offset: 112,
  axisLine: {show: false}, axisTick: {show: false}, splitLine: {show: false},
  axisLabel: Object.assign(ts(26), {show: true, margin: 8, customValues: dateHours, padding: [0, 0, 0, 16],
    formatter: v => dateNames[dateHours.indexOf(v)]})
});

function events(extra) {
  const d = shockHours.map(h => ({xAxis: h, lineStyle: {type: [14, 7], color: K, width: 1}}))
    .concat(cloudHours.map(h => ({xAxis: h, lineStyle: {type: [14, 6, 2, 6], color: K, width: 1}})));
  return {silent: true, symbol: ['none', 'none'], label: {show: false}, animation: false,
    emphasis: {disabled: true}, data: d.concat(extra || [])};
}
function line(name, data, gi, color, width, step, ml) {
  const s = {type: 'line', name, data, xAxisIndex: gi * 2, yAxisIndex: gi * 4, showSymbol: false,
    symbol: 'none', animation: false, silent: true, clip: true,
    lineStyle: {color, width}, itemStyle: {color}};
  if (step) s.step = step;
  if (ml) s.markLine = ml;
  return s;
}
// error bars at the centre of each Pr flux bin
const prErrData = prFlux.slice(0, -1).map((d, i) => [(d[0] + prFlux[i + 1][0]) / 2, d[1], prFluxErr[i] || 0.06]);
const series = [
  line('Pr', prFlux, 0, K, 1.8, 'end', events()),
  {type: 'custom', name: 'PrErr', xAxisIndex: 0, yAxisIndex: 0, data: prErrData, silent: true, animation: false,
   clip: true,
   renderItem: (params, api) => {
     const x = api.value(0), y = api.value(1), e = api.value(2);
     const p1 = api.coord([x, y * (1 - e)]), p2 = api.coord([x, y * (1 + e)]);
     return {type: 'line', shape: {x1: p1[0], y1: p1[1], x2: p2[0], y2: p2[1]}, style: {stroke: K, lineWidth: 1.3}};
   }},
  line('H3', h3, 1, K, 1.5, null, events()),
  line('H6', h6, 1, RED, 1.3, null, null),
  line('H10', h10, 1, BLUE, 1.3, null, null),
  line('de1', de1, 2, '#111', 1.2, 'end', events()),
  line('de4', de4, 2, '#111', 1.2, 'end', null),
  line('B', bField, 3, K, 1.5, null, events()),
  line('V', velocity, 4, K, 1.3, null, events()),
  line('Bz', bz, 5, K, 1.3, null, events([{yAxis: 0, lineStyle: {type: [12, 6, 2, 6], color: K, width: 1}}]))
];

function txt(x, y, text, size, color, rich) {
  return {type: 'text', x, y, silent: true, z: 100, style: {
    text, fontSize: size, fontFamily: FONT, fontWeight: W, fill: color || K,
    align: 'left', verticalAlign: 'middle', textAlign: 'left', textVerticalAlign: 'middle', rich}};
}
const subRich = {s: {fontSize: 27, fontFamily: FONT, fontWeight: W, fill: K},
  u: {fontSize: 20, fontFamily: FONT, fontWeight: W, fill: K, padding: [18, 0, 0, 2]}};
const evX = [225, 462, 505, 539, 748, 782];
const graphic = [
  txt(241, 22, 'WIND/ACE', 31),
  txt(524, 22, 'April 30−May 4, 1998', 36),
  txt(205, 122, 'EPACT/LEMT:  p  =  28−72  MeV/n', 21),
  txt(242, 387, 'H3:  E  =  0.16−0.23  MeV', 21, K),
  txt(242, 409, 'H6:  E  =  0.46−0.65  MeV', 21, RED),
  txt(232, 432, 'H10:  E  =  1.74−2.51  MeV', 21, BLUE),
  txt(688, 404, 'EPACT/STEP', 21),
  txt(845, 507, 'DE30', 26),
  txt(232, 579, 'de1:  e  =  0.038−0.053  MeV', 21),
  txt(232, 618, 'de4:  e  =  0.175−0.315  MeV', 21),
  txt(542, 731, 'Magnetic  cloud', 29)
].concat(eventLabels.map((l, i) => txt(evX[i], 766, '{s|' + l[0] + '}{u|' + l[1] + '}', 27, K, subRich)));

const chart = echarts.init(document.getElementById('c'), null, {renderer: 'canvas'});
chart.setOption({animation: false, backgroundColor: '#fff', grid, xAxis, yAxis, series, graphic});
</script></body></html>
